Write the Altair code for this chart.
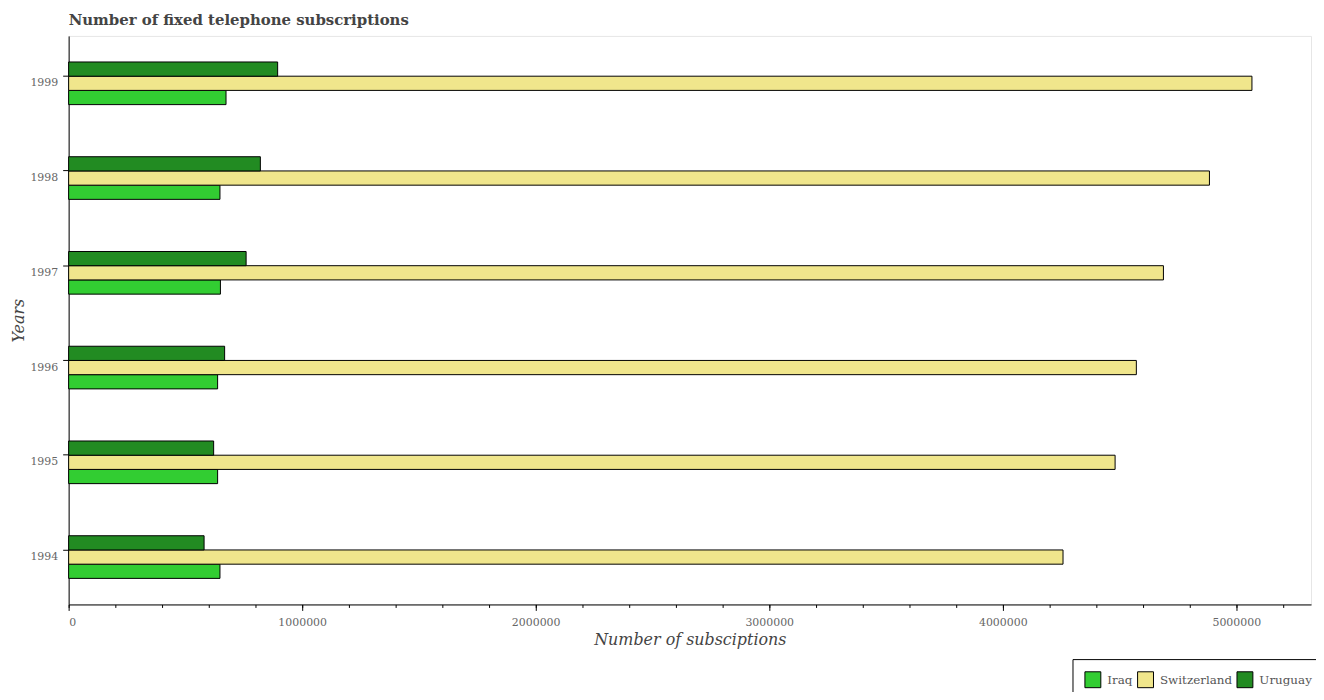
import altair as alt
import pandas as pd

years = ["1994", "1995", "1996", "1997", "1998", "1999"]
iraq = [648000, 638000, 638000, 650000, 648000, 674000]
switzerland = [4258000, 4481000, 4572000, 4688000, 4885000, 5067000]
uruguay = [580000, 621000, 668000, 760000, 821000, 895000]

countries = ["Iraq", "Switzerland", "Uruguay"]
colors = ["#32CD32", "#F0E68C", "#228B22"]
major_ticks = [0, 1000000, 2000000, 3000000, 4000000, 5000000]
minor_ticks = [i * 200000 for i in range(27)]

rows = []
for i, y in enumerate(years):
    rows.append({"year": y, "country": "Iraq", "value": iraq[i]})
    rows.append({"year": y, "country": "Switzerland", "value": switzerland[i]})
    rows.append({"year": y, "country": "Uruguay", "value": uruguay[i]})
df = pd.DataFrame(rows)

FONT = "DejaVu Serif"
xscale = alt.Scale(domain=[0, 5320000], nice=False, zero=True)

yenc = alt.Y(
    "year:N",
    sort=list(reversed(years)),
    scale=alt.Scale(paddingInner=0.55, paddingOuter=0.275),
    axis=alt.Axis(
        title="Years", titleFont=FONT, titleFontStyle="italic", titleFontWeight="normal",
        titleFontSize=16, titleColor="#444444", titlePadding=3,
        labelFont=FONT, labelFontSize=11, labelColor="#666666", labelPadding=5,
        tickSize=6, tickColor="black", domainColor="black", bandPosition=0.333,
        grid=False,
    ),
)
yoff = alt.YOffset("country:N", sort=["Uruguay", "Switzerland", "Iraq"],
                   scale=alt.Scale(paddingInner=0, paddingOuter=0))

bars = alt.Chart(df).mark_bar(stroke="black", strokeWidth=1).encode(
    y=yenc,
    yOffset=yoff,
    x=alt.X(
        "value:Q", scale=xscale,
        axis=alt.Axis(
            values=major_ticks, format="d", orient="bottom",
            title="Number of subsciptions", titleFont=FONT, titleFontStyle="italic",
            titleFontWeight="normal", titleFontSize=16, titleColor="#444444", titlePadding=4,
            labelFont=FONT, labelFontSize=11, labelColor="#666666", labelPadding=6,
            tickSize=6, tickColor="black", domainColor="black", grid=False,
        ),
    ),
    color=alt.Color(
        "country:N", sort=countries,
        scale=alt.Scale(domain=countries, range=colors),
        legend=alt.Legend(
            title=None, orient="none", direction="horizontal",
            legendX=1010, legendY=627,
            symbolType="square", symbolSize=256, symbolStrokeColor="black",
            symbolStrokeWidth=1, symbolOpacity=1,
            labelFont=FONT, labelFontSize=12, labelColor="#555555", labelOffset=6,
            columnPadding=2, padding=12, strokeColor="black", fillColor="white",
        ),
    ),
)

minor = alt.Chart(df).mark_bar(opacity=0).encode(
    y=yenc,
    yOffset=yoff,
    x=alt.X(
        "value:Q", scale=xscale,
        axis=alt.Axis(
            values=minor_ticks, labels=False, title=None, orient="bottom",
            domain=False, tickSize=3, tickColor="black", grid=False,
        ),
    ),
)

chart = alt.layer(bars, minor).resolve_axis(x="independent").properties(
    width=1250, height=572,
    title=alt.TitleParams(
        "Number of fixed telephone subscriptions", anchor="start", frame="group",
        font=FONT, fontSize=15, fontWeight="bold", color="#444444", offset=8,
    ),
    autosize=alt.AutoSizeParams(type="none"),
    padding={"left": 61, "top": 26, "right": 5, "bottom": 86},
).configure_view(stroke="#e6e6e6", strokeWidth=1)

chart.save("out.html", embed_options={"renderer": "svg", "actions": False})
